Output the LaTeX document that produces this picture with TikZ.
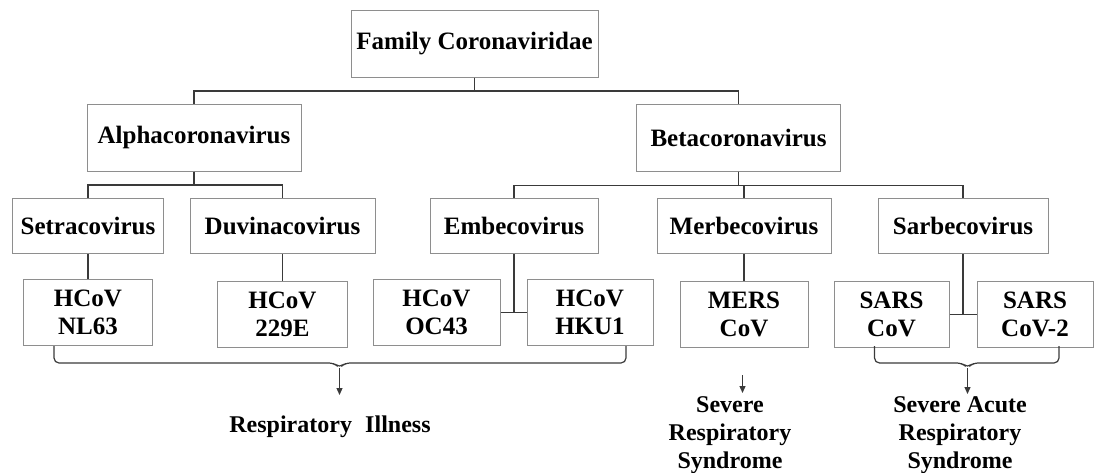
\documentclass[tikz,border=0pt]{standalone}
\usepackage{fontspec}
\setmainfont{Liberation Serif}
\usetikzlibrary{arrows.meta}
\definecolor{BoxGray}{HTML}{8E8E8E}
\definecolor{LinkGray}{HTML}{3A3A3A}

\begin{document}
\begin{tikzpicture}[
    x=1pt, y=-1pt,
    box/.style={draw=BoxGray, line width=1pt, fill=white, inner sep=0pt, align=center,
      font=\fontsize{25}{28}\selectfont\bfseries},
    rank/.style={box, minimum height=67pt},
    genus/.style={box, minimum height=55pt},
    virus/.style={box, minimum height=66pt},
    outcome/.style={inner sep=0pt, align=center, font=\fontsize{24}{28}\selectfont\bfseries},
    link/.style={draw=LinkGray, line width=1.2pt},
    arrow/.style={link, -{Triangle[length=7pt,width=6pt]}}
  ]
    \useasboundingbox (0,0) rectangle (1094,472);
    \node[rank, minimum width=247pt] (fam) at (474.5,43.5) {Family Coronaviridae};
    \node[rank, minimum width=214pt] (alpha) at (194,137.5) {Alphacoronavirus};
    \node[rank, minimum width=204pt] (beta) at (738.5,137.5) {Betacoronavirus};
    \node[genus, minimum width=151pt] (setra) at (88,226) {Setracovirus};
    \node[genus, minimum width=185pt] (duvina) at (282.5,226) {Duvinacovirus};
    \node[genus, minimum width=168pt] (embeco) at (514,226) {Embecovirus};
    \node[genus, minimum width=174pt] (merbeco) at (744,226) {Merbecovirus};
    \node[genus, minimum width=170pt] (sarbeco) at (963,226) {Sarbecovirus};
    \node[virus, minimum width=129pt] (nl63) at (88,312) {HCoV\\NL63};
    \node[virus, minimum width=130pt] (e229) at (282.5,314) {HCoV\\229E};
    \node[virus, minimum width=127pt] (oc43) at (436.5,312.5) {HCoV\\OC43};
    \node[virus, minimum width=126pt] (hku1) at (590,312.5) {HCoV\\HKU1};
    \node[virus, minimum width=128pt] (mers) at (744,314.5) {MERS\\CoV};
    \node[virus, minimum width=115pt] (sars) at (891.5,314.5) {SARS\\CoV};
    \node[virus, minimum width=116pt] (sars2) at (1035,314.5) {SARS\\CoV-2};
    \draw[link] (fam.south) -- ++(0,13.5) -| (alpha.north);
    \draw[link] (fam.south) -- ++(0,13.5) -| (beta.north);
    \draw[link] (alpha.south) -- ++(0,13.5) -| (setra.north);
    \draw[link] (alpha.south) -- ++(0,13.5) -| (duvina.north);
    \foreach \g in {embeco,merbeco,sarbeco}
      \draw[link] (beta.south) -- ++(0,14) -| (\g.north);
    \draw[link] (setra.south) -- (setra.south |- nl63.north);
    \draw[link] (duvina.south) -- (duvina.south |- e229.north);
    \draw[link] (merbeco.south) -- (merbeco.south |- mers.north);
    \draw[link] (embeco.south) -- (embeco.south |- oc43.east);
    \draw[link] (oc43.east) -- (hku1.west);
    \draw[link] (sarbeco.south) -- (sarbeco.south |- sars.east);
    \draw[link] (sars.east) -- (sars2.west);
    \coordinate (resp-l) at (54,346);
    \coordinate (resp-r) at (626,346);
    \coordinate (resp-tip) at (339.5,368);
    \coordinate (resp-end) at (339.5,395);
    \draw[link, rounded corners=5pt] (resp-l) -- (54,363) -- (334,363) -- (resp-tip)
      -- (345,363) -- (626,363) -- (resp-r);
    \draw[arrow] (resp-tip) -- (resp-end);
    \coordinate (sars-l) at (874.5,346);
    \coordinate (sars-r) at (1059,346);
    \coordinate (sars-tip) at (967.5,368);
    \coordinate (sars-end) at (967.5,394);
    \draw[link, rounded corners=5pt] (sars-l) -- (874.5,363) -- (962,363) -- (sars-tip)
      -- (973,363) -- (1059,363) -- (sars-r);
    \draw[arrow] (sars-tip) -- (sars-end);
    \coordinate (mers-top) at (742.5,375);
    \coordinate (mers-end) at (742.5,393);
    \draw[arrow] (mers-top) -- (mers-end);
    \node[outcome, anchor=north] (ill) at (330,416) {Respiratory\hspace{0.55em}Illness};
    \node[outcome, anchor=north] (srs) at (730,396.5) {Severe\\Respiratory\\Syndrome};
    \node[outcome, anchor=north] (sars-syn) at (960,396.5) {Severe Acute\\Respiratory\\Syndrome};
  \end{tikzpicture}
\end{document}
